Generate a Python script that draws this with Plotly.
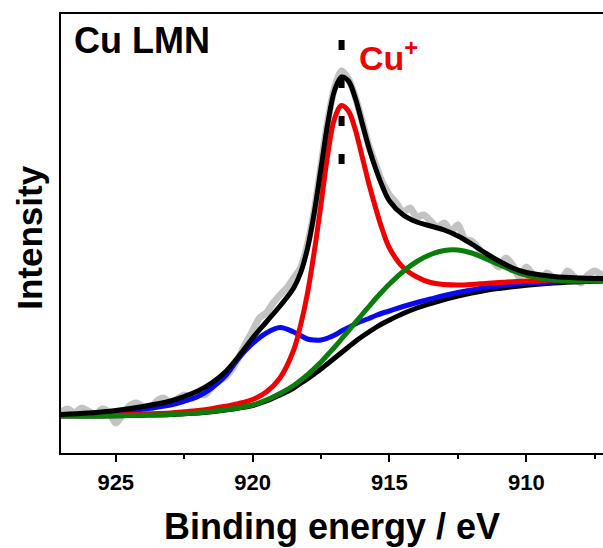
import plotly.graph_objects as go

# ---------------- data ----------------
# Raw spectrum (grey), binding energy in eV and intensity (a.u.)
raw_energy = [927.00, 926.75, 926.50, 926.25, 926.00, 925.75, 925.50, 925.25, 925.00, 924.75,
              924.50, 924.25, 924.00, 923.75, 923.50, 923.25, 923.00, 922.75, 922.50, 922.25,
              922.00, 921.75, 921.50, 921.25, 921.00, 920.75, 920.50, 920.25, 920.00, 919.75,
              919.50, 919.25, 919.00, 918.75, 918.50, 918.25, 918.00, 917.75, 917.50, 917.25,
              917.00, 916.75, 916.50, 916.25, 916.00, 915.75, 915.50, 915.25, 915.00, 914.75,
              914.50, 914.25, 914.00, 913.75, 913.50, 913.25, 913.00, 912.75, 912.50, 912.25,
              912.00, 911.75, 911.50, 911.25, 911.00, 910.75, 910.50, 910.25, 910.00, 909.75,
              909.50, 909.25, 909.00, 908.75, 908.50, 908.25, 908.00, 907.75, 907.50, 907.25,
              907.00]
raw_intensity = [41, 44, 40, 45, 42, 38, 44, 41, 30, 38,
                 47, 50, 46, 43, 52, 55, 50, 54, 58, 55,
                 60, 58, 66, 72, 76, 84, 96, 110, 122, 135,
                 140, 150, 158, 165, 175, 185, 208, 242, 288, 333,
                 366, 382, 374, 356, 332, 307, 288, 270, 258, 250,
                 241, 245, 236, 238, 232, 226, 230, 222, 228, 214,
                 212, 205, 196, 192, 186, 195, 188, 176, 186, 178,
                 170, 180, 175, 172, 182, 176, 170, 178, 182, 178,
                 175]

# Fit curves on a common energy grid
fit_energy = [927, 926, 925, 924, 923, 922.5, 922, 921.5, 921, 920.5,
              920, 919.5, 919, 918.5, 918.25, 918, 917.75, 917.5, 917.25, 917,
              916.75, 916.5, 916.25, 916, 915.75, 915.5, 915.25, 915, 914.5, 914,
              913.5, 913, 912.5, 912, 911.5, 911, 910.5, 910, 909, 908, 907]
background = [37, 37, 37.3, 37.8, 38.5, 39.2, 40, 41.3, 43, 45,
              47.5, 52, 58, 65, 69.5, 74, 79, 84, 89.5, 95,
              100.5, 106, 111.5, 116.5, 121, 125.5, 129.5, 133, 139.5, 145,
              149.5, 153.5, 157, 160, 162.5, 164.5, 166.3, 167.8, 170, 171.3, 172]
cu_plus = [37.5, 37.6, 38.1, 38.9, 40.1, 41.2, 42.5, 44.3, 46.7, 49.5,
           53.5, 61, 75, 103, 127.5, 159, 201, 249, 299.5, 335,
           347.5, 342, 323.5, 296.5, 269, 244.5, 222.5, 205, 185.5, 176,
           170.5, 168.5, 168, 168.5, 169.5, 170.5, 171.3, 172, 173, 173.3, 173.5]
peak_blue = [38.5, 39, 40.8, 43.8, 48, 51.7, 56.5, 64.8, 77, 95,
             109.5, 120, 125.5, 121, 117.5, 114, 113, 113, 115, 118,
             122, 125.5, 129, 132, 134.5, 137.5, 140, 142, 146.5, 150.5,
             154, 157.5, 160.5, 163, 165.5, 167, 168.3, 169.8, 171, 172, 172.5]
peak_green = [37, 37, 37.3, 37.8, 38.5, 39.2, 40, 41.4, 43.2, 45.3,
              48, 53, 59.5, 67.5, 72.7, 78, 84.5, 91, 98.5, 106,
              114, 122, 130.5, 138.5, 146.5, 154.5, 162, 169, 181.5, 191.5,
              198.5, 202.5, 203, 200, 194.5, 188.5, 182.3, 177.8, 173, 172, 172]
envelope = [38.5, 40, 42.5, 46.5, 52, 56.5, 62, 70, 81, 97,
            115, 131, 147, 165, 180, 204, 240, 285, 330, 363,
            376, 372, 355, 330, 305, 284, 266, 252, 238, 231,
            227, 223, 217, 209, 200, 192, 185, 180.5, 176.5, 175, 174.5]

# Cu+ position marker (dotted guide line)
cu_plus_energy = 916.75
guide_intensity = [413, 285]

x_ticks = [925, 920, 915, 910]
x_range = [927, 907.2]
y_range = [0, 439]

FONT = "Liberation Sans, Arial, sans-serif"

fig = go.Figure()

fig.add_trace(go.Scatter(x=raw_energy, y=raw_intensity, mode="lines",
                         line=dict(color="#c3c3c3", width=7, shape="spline", smoothing=0.8),
                         hoverinfo="skip"))
fig.add_trace(go.Scatter(x=fit_energy, y=background, mode="lines",
                         line=dict(color="black", width=5, shape="spline")))
fig.add_trace(go.Scatter(x=fit_energy, y=peak_blue, mode="lines",
                         line=dict(color="#0a0af0", width=5, shape="spline")))
fig.add_trace(go.Scatter(x=fit_energy, y=cu_plus, mode="lines",
                         line=dict(color="#f00000", width=5, shape="spline")))
fig.add_trace(go.Scatter(x=fit_energy, y=peak_green, mode="lines",
                         line=dict(color="#0a7d0a", width=5, shape="spline")))
fig.add_trace(go.Scatter(x=fit_energy, y=envelope, mode="lines",
                         line=dict(color="black", width=5, shape="spline")))
fig.add_trace(go.Scatter(x=[cu_plus_energy, cu_plus_energy], y=guide_intensity, mode="lines",
                         line=dict(color="black", width=6, dash="10px,28px")))

fig.update_layout(
    width=603, height=548,
    margin=dict(l=61, r=0, t=14, b=95),
    paper_bgcolor="white", plot_bgcolor="white",
    showlegend=False,
    font=dict(family=FONT, color="black"),
)

fig.update_xaxes(
    range=x_range, tickvals=x_ticks,
    showline=True, linecolor="black", linewidth=1.5, mirror=True,
    ticks="outside", ticklen=7, tickwidth=1.5, tickcolor="black",
    minor=dict(dtick=2.5, tick0=907.5, ticks="outside", ticklen=4, tickwidth=1.5, tickcolor="black"),
    showgrid=False, zeroline=False,
    tickfont=dict(family=FONT, size=22, weight="bold"),
    ticklabelstandoff=2,
)
fig.update_yaxes(
    range=y_range, showticklabels=False, ticks="",
    showline=True, linecolor="black", linewidth=1.5, mirror=False,
    showgrid=False, zeroline=False,
)

# axis titles
fig.add_annotation(text="Binding energy / eV", xref="paper", yref="paper", x=0.5, y=-0.1663,
                   xanchor="center", yanchor="middle", showarrow=False,
                   font=dict(family=FONT, size=36, weight="bold", color="black"))
fig.add_annotation(text="Intensity", xref="paper", yref="paper", x=-0.0585, y=0.491,
                   xanchor="center", yanchor="middle", showarrow=False, textangle=-90,
                   font=dict(family=FONT, size=35, weight="bold", color="black"))

fig.add_annotation(text="Cu LMN", xref="paper", yref="paper", x=0.021, y=0.9396,
                   xanchor="left", yanchor="middle", showarrow=False,
                   font=dict(family=FONT, size=36, weight="bold", color="black"))
fig.add_annotation(text="Cu<sup>+</sup>", xref="paper", yref="paper", x=0.546, y=0.9055,
                   xanchor="left", yanchor="middle", showarrow=False,
                   font=dict(family=FONT, size=34, weight="bold", color="#f00000"))

fig.write_html("out.html")
